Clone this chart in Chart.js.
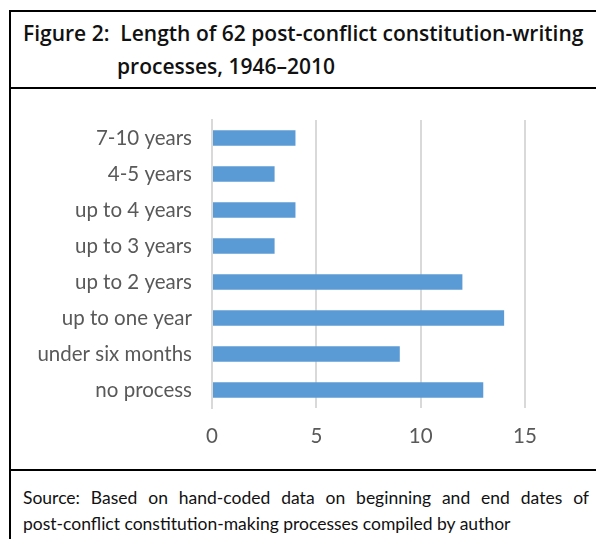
<!DOCTYPE html>
<html>
<head>
<meta charset="utf-8">
<script src="https://cdn.jsdelivr.net/npm/chart.js@4/dist/chart.umd.min.js"></script>
<style>
  html, body { margin: 0; padding: 0; background: #fff; overflow: hidden; }
  body { width: 596px; height: 539px; position: relative; font-family: Lato, "Open Sans", sans-serif; }
  #frame { position: absolute; left: 9px; top: 10px; width: 620px; height: 560px; border: 2px solid #000; box-sizing: border-box; }
  #title { position: absolute; left: 9px; top: 10px; width: 620px; height: 79px; border-bottom: 2px solid #000; box-sizing: border-box; }
  #title div { position: absolute; font-family: "Open Sans", sans-serif; font-size: 21px; font-weight: 600; color: #111; white-space: nowrap; }
  #title .l1 { left: 14px; top: 9px; }
  #title .l2 { left: 108px; top: 42px; }
  #foot { position: absolute; left: 9px; top: 469px; width: 620px; border-top: 2px solid #000; }
  #foot div { position: absolute; left: 14px; font-size: 17.5px; line-height: 26px; color: #111; white-space: nowrap; }
  #foot .f1 { top: 14px; width: 566px; text-align: justify; text-align-last: justify; white-space: normal; }
  #foot .f2 { top: 40px; }
  #wrap { position: absolute; left: 0; top: 88px; width: 596px; height: 381px; }
</style>
</head>
<body>
<div id="frame"></div>
<div id="title">
  <div class="l1">Figure 2:&nbsp; Length of 62 post-conflict constitution-writing</div>
  <div class="l2">processes, 1946–2010</div>
</div>
<div id="wrap"><canvas id="myChart" width="596" height="381"></canvas></div>
<div id="foot">
  <div class="f1">Source: Based on hand-coded data on beginning and end dates of</div>
  <div class="f2">post-conflict constitution-making processes compiled by author</div>
</div>
<script>
const categories = ['7-10 years', '4-5 years', 'up to 4 years', 'up to 3 years', 'up to 2 years', 'up to one year', 'under six months', 'no process'];
const processCounts = [4, 3, 4, 3, 12, 14, 9, 13];
const xTicks = [0, 5, 10, 15];

let ctx = document.getElementById('myChart').getContext('2d');
let myChart = new Chart(ctx, {
    type: 'bar',
    data: {
        labels: categories,
        datasets: [{
            data: processCounts,
            backgroundColor: '#5B9BD5',
            barPercentage: 0.43,
            categoryPercentage: 1
        }]
    },
    options: {
        indexAxis: 'y',
        responsive: false,
        animation: false,
        layout: { padding: { top: 32, right: 71, bottom: 0, left: 0 } },
        plugins: { legend: { display: false }, tooltip: { enabled: false } },
        scales: {
            x: {
                min: xTicks[0],
                max: xTicks[xTicks.length - 1],
                afterBuildTicks: (scale) => { scale.ticks = xTicks.map(v => ({ value: v })); },
                grid: { color: '#D9D9D9', lineWidth: 2, drawTicks: false },
                border: { display: false },
                ticks: { color: '#595959', font: { family: 'Lato', size: 20.5 }, padding: 16 },
                afterFit: (scale) => { scale.height = 61; }
            },
            y: {
                grid: { display: false },
                border: { display: true, color: '#D9D9D9', width: 2 },
                ticks: { color: '#595959', font: { family: 'Lato', size: 20.5 }, padding: 12 },
                afterFit: (scale) => { scale.width = 212; }
            }
        }
    }
});
</script>
</body>
</html>
